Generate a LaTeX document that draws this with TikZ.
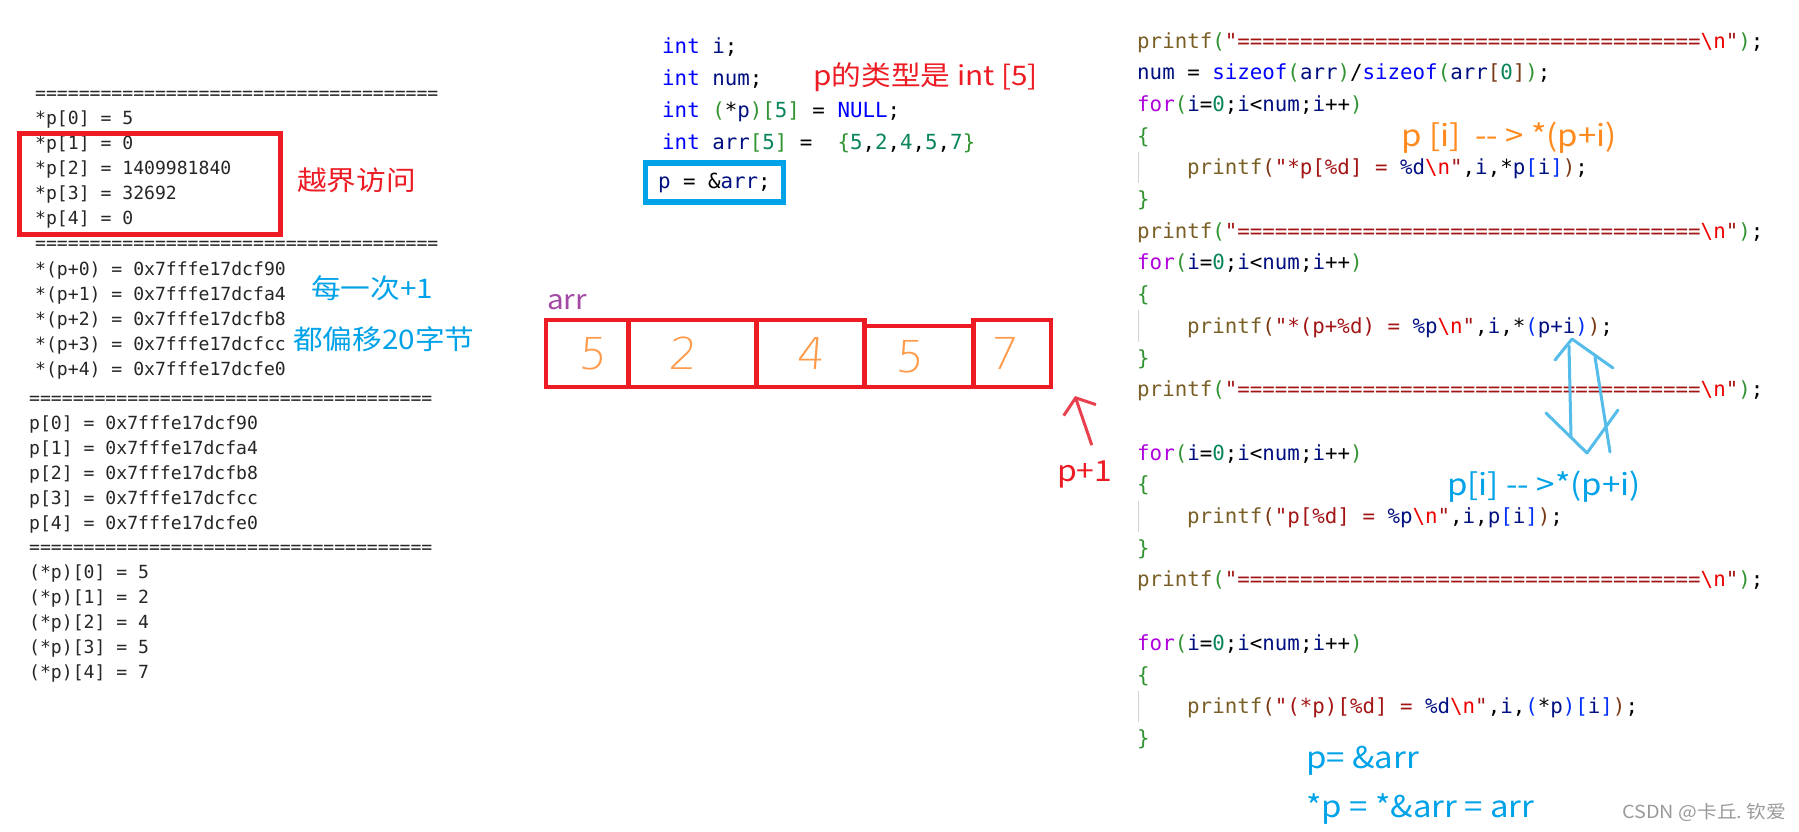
\documentclass[tikz,border=0pt]{standalone}
\usepackage{fontspec}
\usepackage{tikz}
\usetikzlibrary{arrows.meta,positioning}
\setmainfont{DejaVu Sans}
\setmonofont{DejaVu Sans Mono}
\newfontfamily\hanfont{Noto Sans CJK SC}[FakeStretch=1.1]
\newfontfamily\handfont{DejaVu Sans ExtraLight}[FakeSlant=0.08]
\frenchspacing

\definecolor{boxred}{HTML}{ED1C24}
\definecolor{boxblue}{HTML}{00A2E8}
\definecolor{noteorange}{HTML}{FF8A1E}
\definecolor{arrpurple}{HTML}{A349A4}
\definecolor{digitorange}{HTML}{FF9A4A}
\definecolor{arrowred}{HTML}{E8404E}
\definecolor{doodleblue}{HTML}{56BCEA}
\definecolor{consgray}{HTML}{262626}
\definecolor{guidegray}{HTML}{D4D4D4}
\definecolor{wmgray}{HTML}{9A9A9A}
\definecolor{fncol}{HTML}{795E26}
\definecolor{strcol}{HTML}{A31515}
\definecolor{esccol}{HTML}{EE0000}
\definecolor{kwcol}{HTML}{AF00DB}
\definecolor{typcol}{HTML}{0000FF}
\definecolor{varcol}{HTML}{001080}
\definecolor{numcol}{HTML}{098658}
\definecolor{bkgreen}{HTML}{319331}
\definecolor{bkbrown}{HTML}{7B3814}
\definecolor{bkblue}{HTML}{0431FA}

\newcommand{\codefont}{\ttfamily\fontsize{20.8}{25}\selectfont}
\newcommand{\consfont}{\ttfamily\fontsize{18.1}{22}\selectfont}
\newcommand{\eqrow}{=====================================}
\newcommand{\tfn}[1]{\textcolor{fncol}{#1}}
\newcommand{\tstr}[1]{\textcolor{strcol}{#1}}
\newcommand{\tesc}{\textcolor{esccol}{\textbackslash n}}
\newcommand{\tkw}[1]{\textcolor{kwcol}{#1}}
\newcommand{\ttyp}[1]{\textcolor{typcol}{#1}}
\newcommand{\tvar}[1]{\textcolor{varcol}{#1}}
\newcommand{\tnum}[1]{\textcolor{numcol}{#1}}
\newcommand{\bka}[1]{\textcolor{bkgreen}{#1}}
\newcommand{\bkb}[1]{\textcolor{bkbrown}{#1}}
\newcommand{\bkc}[1]{\textcolor{bkblue}{#1}}
\newcommand{\forhead}{\tkw{for}\bka{(}\tvar{i}=\tnum{0};\tvar{i}<\tvar{num};\tvar{i}++\bka{)}}
\newcommand{\sephead}{\tfn{printf}\bka{(}\tstr{"\eqrow}\tesc\tstr{"}\bka{)};}

\begin{document}
\begin{tikzpicture}[
  x=1pt, y=-1pt,
  codeline/.style={anchor=base west, inner sep=0pt, font=\codefont, text=black},
  conline/.style={anchor=base west, inner sep=0pt, font=\consfont, text=consgray},
  notesm/.style={anchor=west, inner sep=0pt, font=\hanfont\fontsize{27}{32}\selectfont},
  notelg/.style={anchor=west, inner sep=0pt, font=\hanfont\fontsize{30}{36}\selectfont},
  wmark/.style={anchor=west, inner sep=0pt, text=wmgray, font=\hanfont\fontsize{18}{22}\selectfont},
  redframe/.style={draw=boxred, line width=5pt, inner sep=0pt},
  blueframe/.style={draw=boxblue, line width=5.5pt, inner sep=0pt, font=\codefont},
  cell/.style={draw=boxred, line width=4.8pt, inner sep=0pt, outer sep=0pt,
               minimum height=67pt, anchor=south west, text=digitorange,
               font=\handfont\fontsize{44}{48}\selectfont},
  pointer/.style={draw=arrowred, line width=3pt, -{Straight Barb[length=13pt,width=34pt]}},
  doodle/.style={draw=doodleblue, line width=3pt, line cap=round, line join=round},
  guide/.style={draw=guidegray, line width=1pt}
]
\fill[white] (0,0) rectangle (1799,831);
\useasboundingbox (0,0) rectangle (1799,831);

% console output
\node[conline] (consep1) at (35,99) {\eqrow};
\foreach \val [count=\idx from 0] in {5,0,1409981840,32692,0}
  \node[conline] (deref\idx) at (35,{124+25*\idx}) {*p[\idx] = \val};
\node[conline] (consep2) at (35,249) {\eqrow};
\foreach \val [count=\idx from 0] in {f90,fa4,fb8,fcc,fe0}
  \node[conline] (shift\idx) at (35,{275+25*\idx}) {*(p+\idx) = 0x7fffe17dc\val};
\node[conline] (consep3) at (29,404) {\eqrow};
\foreach \val [count=\idx from 0] in {f90,fa4,fb8,fcc,fe0}
  \node[conline] (elem\idx) at (29,{429+25*\idx}) {p[\idx] = 0x7fffe17dc\val};
\node[conline] (consep4) at (29,553) {\eqrow};
\foreach \val [count=\idx from 0] in {5,2,4,5,7}
  \node[conline] (row\idx) at (29,{578+25*\idx}) {(*p)[\idx] = \val};

\node[redframe, minimum width=261pt, minimum height=100.7pt] (oobframe) at (150,183.7) {};
\node[notesm, text=boxred] (oob) at (297,180) {越界访问};
\node[notesm, text=boxblue] (step) at (311,288.5) {每一次+1};
\node[notesm, text=boxblue] (offset) at (293,339.5) {都偏移20字节};

% declarations
\node[codeline] (decli) at (662,53) {\ttyp{int} \tvar{i};};
\node[codeline] (declnum) at (662,85) {\ttyp{int} \tvar{num};};
\node[codeline] (declp) at (662,117) {\ttyp{int} \bka{(}*\tvar{p}\bka{)}\bka{[}\tnum{5}\bka{]} = \ttyp{NULL};};
\node[codeline] (declarr) at (662,149) {\ttyp{int} \tvar{arr}\bka{[}\tnum{5}\bka{]} =~ \bka{\{}\tnum{5},\tnum{2},\tnum{4},\tnum{5},\tnum{7}\bka{\}}};
\node[blueframe, minimum width=137.7pt, minimum height=39.4pt] (assign) at (714.4,182.5) {\tvar{p} = \&\tvar{arr};};
\node[notesm, text=boxred] (ptype) at (813,77.5) {p的类型是 int [5]};

% array
\node[notesm, text=arrpurple] (arrname) at (547,302) {arr};
\node[cell, minimum width=82.5pt] (cell1) at (545.9,387) {\hspace*{10pt}5};
\node[cell, minimum width=127.8pt] (cell2) at (cell1.south east) {2\hspace*{20pt}};
\node[cell, minimum width=108.3pt] (cell3) at (cell2.south east) {4};
\node[cell, minimum width=108.7pt, minimum height=61pt] (cell4) at (cell3.south east) {5\hspace*{18pt}};
\node[cell, minimum width=77.8pt] (cell5) at (cell4.south east) {7\hspace*{18pt}};

\node[notesm, font=\hanfont\fontsize{29}{34}\selectfont, text=boxred] (pone) at (1057,474) {p+1};
\coordinate (ptip) at (1075,396);
\draw[pointer] ([xshift=7pt,yshift=15pt]pone.north) -- (ptip);

% loops
\node[codeline] (hdra) at (1137,48) {\sephead};
\node[codeline] (size) at (1137,79.7) {\tvar{num} = \ttyp{sizeof}\bka{(}\tvar{arr}\bka{)}/\ttyp{sizeof}\bka{(}\tvar{arr}\bkb{[}\tnum{0}\bkb{]}\bka{)};};
\node[codeline] (fora) at (1137,111.4) {\forhead};
\node[codeline] (opena) at (1137,143.1) {\bka{\{}};
\node[codeline] (bodya) at (1187,174.8) {\tfn{printf}\bkb{(}\tstr{"*p[\%d] = }\tvar{\%d}\tesc\tstr{"},\tvar{i},*\tvar{p}\bkc{[}\tvar{i}\bkc{]}\bkb{)};};
\node[codeline] (closea) at (1137,206.5) {\bka{\}}};
\node[codeline] (hdrb) at (1137,238.2) {\sephead};
\node[codeline] (forb) at (1137,269.9) {\forhead};
\node[codeline] (openb) at (1137,301.6) {\bka{\{}};
\node[codeline] (bodyb) at (1187,333.3) {\tfn{printf}\bkb{(}\tstr{"*(p+\%d) = }\tvar{\%p}\tesc\tstr{"},\tvar{i},*\bkc{(}\tvar{p+i}\bkc{)}\bkb{)};};
\node[codeline] (closeb) at (1137,365) {\bka{\}}};
\node[codeline] (hdrc) at (1137,396.7) {\sephead};
\node[codeline] (forc) at (1137,460.1) {\forhead};
\node[codeline] (openc) at (1137,491.8) {\bka{\{}};
\node[codeline] (bodyc) at (1187,523.5) {\tfn{printf}\bkb{(}\tstr{"p[\%d] = }\tvar{\%p}\tesc\tstr{"},\tvar{i},\tvar{p}\bkc{[}\tvar{i}\bkc{]}\bkb{)};};
\node[codeline] (closec) at (1137,555.2) {\bka{\}}};
\node[codeline] (hdrd) at (1137,586.9) {\sephead};
\node[codeline] (ford) at (1137,650.3) {\forhead};
\node[codeline] (opend) at (1137,682) {\bka{\{}};
\node[codeline] (bodyd) at (1187,713.7) {\tfn{printf}\bkb{(}\tstr{"(*p)[\%d] = }\tvar{\%d}\tesc\tstr{"},\tvar{i},\bkc{(}*\tvar{p}\bkc{)}\bkc{[}\tvar{i}\bkc{]}\bkb{)};};
\node[codeline] (closed) at (1137,745.4) {\bka{\}}};
\foreach \body in {bodya,bodyb,bodyc,bodyd}
  \draw[guide] ([xshift=-49pt,yshift=7pt]\body.north west) -- ([xshift=-49pt,yshift=-4pt]\body.south west);

% notes on the right
\node[notelg, text=noteorange] (eqva) at (1401,137.5) {p [i]~ -{}- > *(p+i)};
\node[notelg, text=boxblue] (eqvb) at (1447,487) {p[i] -{}- >*(p+i)};
\coordinate (dtop) at (1572,339);
\coordinate (dbot) at (1587,453);
\draw[doodle] (1555,360) -- (dtop) -- (1613,368);
\draw[doodle] (1569,346) -- (1571,437);
\draw[doodle] (1595,357) -- (1610,452);
\draw[doodle] (1546,413) -- (dbot) -- (1618,410);
\node[notelg, text=boxblue] (addr) at (1306,761) {p= \&arr};
\node[notelg, text=boxblue] (deref) at (1306,808.5) {*p = *\&arr = arr};
\node[wmark] (credit) at (1622,812) {CSDN @卡丘. 钦爱};
\end{tikzpicture}
\end{document}
